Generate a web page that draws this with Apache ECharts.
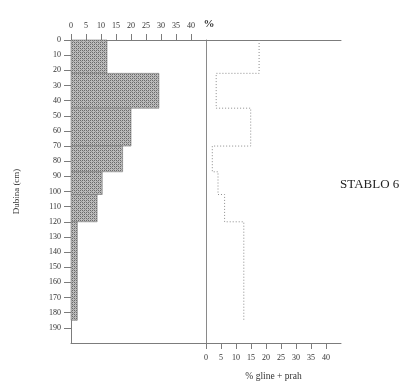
<!DOCTYPE html>
<html>
<head>
<meta charset="utf-8">
<script src="https://cdn.jsdelivr.net/npm/echarts@6/dist/echarts.min.js"></script>
<style>
  html, body { margin: 0; padding: 0; background: #fff; }
  #chart { width: 400px; height: 385px; }
</style>
</head>
<body>
<div id="chart"></div>
<script>
// layer boundaries (cm) and percentages per layer
const layerTop = [0, 22, 45, 70, 87, 102, 120];
const layerBottom = [22, 45, 70, 87, 102, 120, 185];
const shadedPct = [12, 29.3, 20, 17.2, 10.4, 8.7, 2.1];
const clayPct = [17.7, 3.4, 14.9, 2.1, 4, 6.2, 12.6];
const xTicks = [0, 5, 10, 15, 20, 25, 30, 35, 40];
const depthTicks = [0, 10, 20, 30, 40, 50, 60, 70, 80, 90, 100, 110, 120, 130, 140, 150, 160, 170, 180, 190];

const serif = "Liberation Serif";
const lineCol = "#7c7c7c";
const textCol = "#333";

// dotted texture for the shaded bars
function makePattern() {
  const c = document.createElement("canvas");
  c.width = 4; c.height = 4;
  const g = c.getContext("2d");
  g.fillStyle = "#bcbcbc";
  g.fillRect(0, 0, 4, 4);
  g.fillStyle = "#6a6a6a";
  g.fillRect(0, 0, 1, 1); g.fillRect(2, 2, 1, 1);
  g.fillRect(2, 0, 1, 1); g.fillRect(0, 2, 1, 1);
  g.fillStyle = "#929292";
  g.fillRect(1, 1, 1, 1); g.fillRect(3, 3, 1, 1);
  return c;
}

const barData = shadedPct.map((v, i) => [v, layerTop[i], layerBottom[i]]);
const linePts = [];
clayPct.forEach((v, i) => {
  linePts.push([v, layerTop[i]]);
  linePts.push([v, layerBottom[i]]);
});

const chart = echarts.init(document.getElementById("chart"));
const axLine = { show: true, onZero: false, lineStyle: { color: lineCol, width: 1 } };
const lineOnly = (grid, pos) => ({
  type: "value", gridIndex: grid, position: pos, min: 0, max: 45,
  axisLine: axLine,
  axisTick: { show: false }, axisLabel: { show: false }, splitLine: { show: false },
});

chart.setOption({
  animation: false,
  textStyle: { fontFamily: serif },
  grid: [
    { left: 71, top: 40, width: 135, height: 303, outerBoundsMode: "none", containLabel: false },
    { left: 206, top: 40, width: 135, height: 303, outerBoundsMode: "none", containLabel: false },
  ],
  xAxis: [
    {
      type: "value", gridIndex: 0, position: "top", min: 0, max: 45,
      axisLine: axLine,
      axisTick: { show: true, length: 6, customValues: xTicks, lineStyle: { color: lineCol } },
      axisLabel: {
        margin: 10, fontSize: 8, color: textCol, fontFamily: serif,
        customValues: xTicks.concat([45]),
        showMaxLabel: true,
        formatter: (v) => (v === 45 ? "{p|%}" : v),
        rich: { p: { fontSize: 11, fontWeight: "bold", color: textCol, fontFamily: serif, padding: [0, 0, 0, 6] } },
      },
      splitLine: { show: false },
    },
    lineOnly(0, "bottom"),
    {
      type: "value", gridIndex: 1, position: "bottom", min: 0, max: 45,
      name: "% gline + prah", nameLocation: "middle", nameGap: 28,
      nameTextStyle: { fontSize: 9.5, color: textCol, fontFamily: serif },
      axisLine: axLine,
      axisTick: { show: true, length: 6, customValues: xTicks, lineStyle: { color: lineCol } },
      axisLabel: { margin: 11, fontSize: 8, color: textCol, fontFamily: serif, customValues: xTicks },
      splitLine: { show: false },
    },
    lineOnly(1, "top"),
  ],
  yAxis: [
    {
      type: "value", gridIndex: 0, inverse: true, min: 0, max: 200,
      name: "Dubina (cm)", nameLocation: "middle", nameGap: 50,
      nameTextStyle: { fontSize: 9, color: textCol, fontFamily: serif },
      axisLine: axLine,
      axisTick: { show: true, length: 7, customValues: depthTicks, lineStyle: { color: lineCol } },
      axisLabel: { margin: 10, fontSize: 8, color: textCol, fontFamily: serif, customValues: depthTicks },
      splitLine: { show: false },
    },
    {
      type: "value", gridIndex: 1, inverse: true, min: 0, max: 200,
      axisLine: { show: true, onZero: false, lineStyle: { color: "#8a8a8a", width: 1 } },
      axisTick: { show: false }, axisLabel: { show: false }, splitLine: { show: false },
    },
  ],
  graphic: [
    {
      type: "text", left: 340, top: 178,
      style: { text: "STABLO 6", font: "13px " + serif, fill: "#222" },
    },
  ],
  series: [
    {
      type: "custom",
      xAxisIndex: 0, yAxisIndex: 0,
      data: barData,
      encode: { x: 0, y: [1, 2] },
      renderItem: (params, api) => {
        const p0 = api.coord([0, api.value(1)]);
        const p1 = api.coord([api.value(0), api.value(2)]);
        return {
          type: "rect",
          shape: { x: p0[0], y: p0[1], width: p1[0] - p0[0], height: p1[1] - p0[1] },
          style: { fill: { image: makePattern(), repeat: "repeat" }, stroke: "#777", lineWidth: 0.6 },
        };
      },
    },
    {
      type: "line",
      xAxisIndex: 2, yAxisIndex: 1,
      data: linePts,
      symbol: "none",
      lineStyle: { color: "#8c8c8c", width: 1, type: [1, 2] },
    },
  ],
});
</script>
</body>
</html>
